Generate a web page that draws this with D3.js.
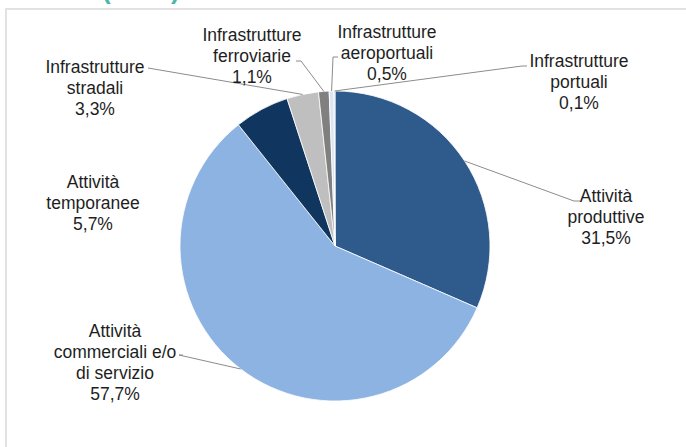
<!DOCTYPE html>
<html lang="it">
<head>
<meta charset="utf-8">
<script src="https://cdn.jsdelivr.net/npm/d3@7"></script>
<style>
  html, body { margin: 0; padding: 0; background: #fff; }
  svg { display: block; }
  text { font-family: "Liberation Sans", Arial, sans-serif; }
</style>
</head>
<body>
<svg id="chart" width="686" height="447"></svg>
<script>
// Ripartizione per tipologia di sorgente (%)
const categories = [
  "Attività produttive",
  "Attività commerciali e/o di servizio",
  "Attività temporanee",
  "Infrastrutture stradali",
  "Infrastrutture ferroviarie",
  "Infrastrutture aeroportuali",
  "Infrastrutture portuali"
];
const values = [31.5, 57.7, 5.7, 3.3, 1.1, 0.5, 0.1];
const valueLabels = ["31,5%", "57,7%", "5,7%", "3,3%", "1,1%", "0,5%", "0,1%"];
const labelLines = [
  ["Attività", "produttive"],
  ["Attività", "commerciali e/o", "di servizio"],
  ["Attività", "temporanee"],
  ["Infrastrutture", "stradali"],
  ["Infrastrutture", "ferroviarie"],
  ["Infrastrutture", "aeroportuali"],
  ["Infrastrutture", "portuali"]
];
const colors = ["#2f5b8c", "#8db3e2", "#10365f", "#bfbfbf", "#808080", "#dce6f2", "#b9cde5"];

// label layout: text centre, first baseline, leader start and bend
const labelLayout = [
  { x: 606, y: 202, lead: [[580, 201], [574, 201]] },
  { x: 115, y: 337, lead: [[183, 355], [179, 355]] },
  { x: 93,  y: 188, lead: null },
  { x: 95,  y: 73,  lead: [[148, 68]] },
  { x: 252, y: 41,  lead: [[296, 61], [301, 61]] },
  { x: 387, y: 38,  lead: [[338, 57], [333, 57]] },
  { x: 579, y: 67,  lead: [[527, 66], [522, 66]] }
];

const svg = d3.select("#chart");
const cx = 335, cy = 246, r = 155;
const lineH = 21;

// chart frame
svg.append("rect")
  .attr("x", 6).attr("y", 9)
  .attr("width", 700).attr("height", 460)
  .attr("fill", "none")
  .attr("stroke", "#d9d9d9")
  .attr("stroke-width", 1.5);

// heading brackets cut by the top edge
svg.append("text").attr("x", 102).attr("y", -1)
  .attr("font-size", 26).attr("font-weight", "bold").attr("fill", "#4db6ac").text("(");
svg.append("text").attr("x", 171).attr("y", -1)
  .attr("font-size", 26).attr("font-weight", "bold").attr("fill", "#4db6ac").text(")");

const data = categories.map((c, i) => ({ name: c, value: values[i], i }));
const pie = d3.pie().sort(null).value(d => d.value).startAngle(0).endAngle(2 * Math.PI);
const arcs = pie(data);
const arc = d3.arc().innerRadius(0).outerRadius(r);
const edge = d3.arc().innerRadius(r).outerRadius(r);

const g = svg.append("g").attr("transform", `translate(${cx},${cy})`);
g.selectAll("path.slice")
  .data(arcs)
  .join("path")
  .attr("class", "slice")
  .attr("d", arc)
  .attr("fill", d => colors[d.data.i])
  .attr("stroke", "#ffffff")
  .attr("stroke-width", 0.8);

// leader lines
arcs.forEach(a => {
  const L = labelLayout[a.data.i];
  if (!L.lead) return;
  const mid = (a.startAngle + a.endAngle) / 2;
  const px = cx + r * Math.sin(mid), py = cy - r * Math.cos(mid);
  const pts = L.lead.concat([[px, py]]);
  svg.append("path")
    .attr("d", d3.line()(pts))
    .attr("fill", "none")
    .attr("stroke", "#8c8c8c")
    .attr("stroke-width", 1);
});

// labels
arcs.forEach(a => {
  const i = a.data.i;
  const L = labelLayout[i];
  const t = svg.append("text")
    .attr("text-anchor", "middle")
    .attr("font-size", 17.5)
    .attr("fill", "#1e1e1e");
  labelLines[i].concat([valueLabels[i]]).forEach((s, k) => {
    t.append("tspan").attr("x", L.x).attr("y", L.y + k * lineH).text(s);
  });
});
</script>
</body>
</html>
